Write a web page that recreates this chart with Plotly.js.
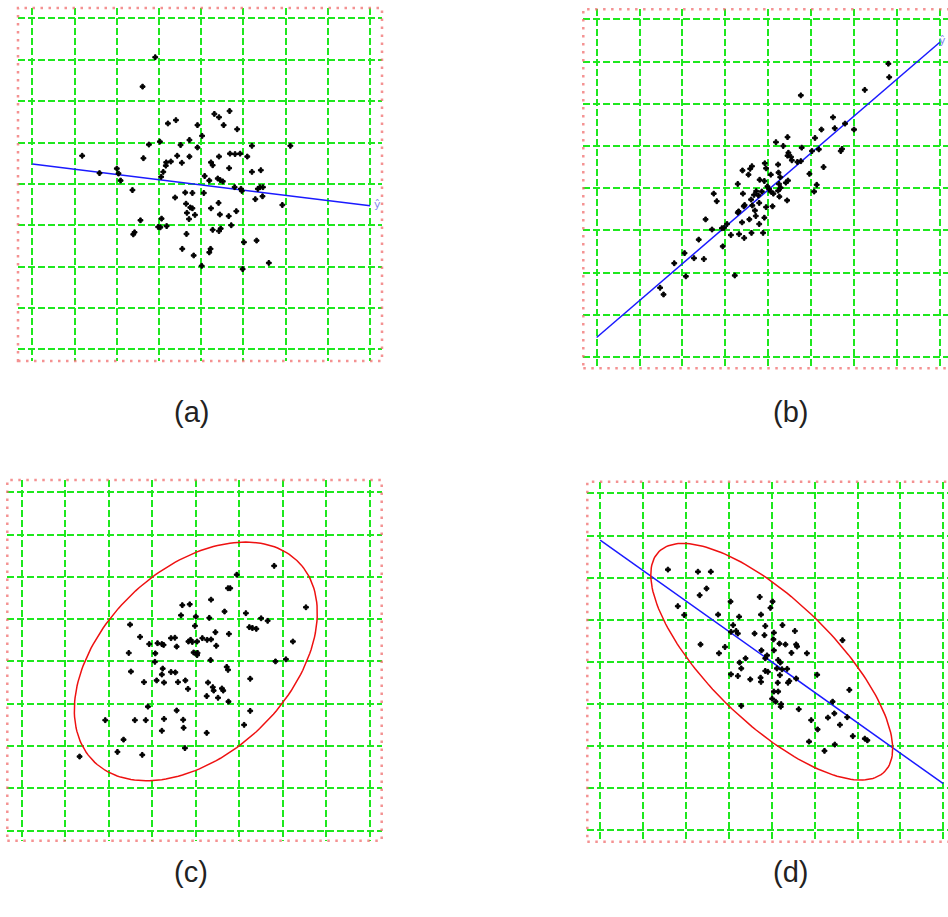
<!DOCTYPE html>
<html>
<head>
<meta charset="utf-8">
<script src="https://cdn.plot.ly/plotly-3.0.1.min.js"></script>
<style>html,body{margin:0;padding:0;background:#fff;}#chart{width:948px;height:917px;}</style>
</head>
<body>
<div id="chart"></div>
<script>
// ---- Panel (a): weak negative relation ----
const aX = [-1.09,-1.39,-0.60,-0.79,0.31,0.42,0.67,-0.09,0.53,0.85,0.02,-0.28,-1.24,-0.98,-0.49,-0.09,1.20,2.11,
  -2.82,-1.37,-0.57,-0.28,0.42,0.68,0.80,0.92,1.09,-0.83,-0.72,-0.46,0.23,0.27,-0.84,
  -2.00,-2.41,-1.96,-0.90,-0.95,0.66,1.20,1.41,-1.91,0.08,0.19,0.39,0.45,0.51,
  -1.63,-0.38,-0.21,0.06,0.79,0.94,0.96,1.34,1.39,1.46,1.45,1.28,
  -0.62,-0.36,0.41,-0.26,-0.21,0.23,1.92,-0.34,-0.15,-0.29,0.44,0.65,0.83,
  -1.44,-0.94,-0.97,-1.02,-0.82,0.27,0.42,0.46,0.71,-1.58,-1.61,-0.35,1.01,1.31,
  -0.45,0.22,0.19,-0.18,0.01,0.98,1.60];
const aY = [3.06,2.35,1.54,1.46,1.69,1.61,1.76,1.42,1.42,1.32,1.16,1.06,0.95,1.02,0.94,0.88,0.92,0.92,
  0.68,0.62,0.68,0.66,0.66,0.73,0.72,0.73,0.66,0.52,0.54,0.51,0.52,0.45,0.44,
  0.37,0.26,0.25,0.29,0.17,0.38,0.29,0.33,0.08,0.19,0.08,0.13,0.09,0.06,
  -0.15,-0.21,-0.22,-0.22,-0.08,-0.12,-0.17,-0.12,-0.08,-0.08,-0.30,-0.37,
  -0.33,-0.48,-0.46,-0.57,-0.59,-0.59,-0.51,-0.70,-0.75,-0.85,-0.74,-0.78,-0.66,
  -0.88,-0.84,-1.05,-1.04,-1.02,-1.11,-1.14,-1.08,-1.00,-1.17,-1.22,-1.21,-1.41,-1.37,
  -1.57,-1.57,-1.655,-1.73,-1.98,-2.06,-1.91];
const aLineX = [-4, 4];
const aLineY = [0.48, -0.53];

// ---- Panel (b): strong positive relation ----
const bX = [2.80,2.82,2.25,0.76,1.51,1.79,1.55,1.24,2.00,1.09,0.45,0.18,0.35,0.78,1.72,1.69,1.02,1.18,0.47,0.45,0.53,0.55,0.68,0.76,
  0.23,-0.08,-0.05,-0.38,-0.42,-0.60,-0.46,0.06,0.24,0.28,0.46,0.41,0.96,1.29,1.13,1.07,-0.71,-0.20,-0.09,0.25,0.29,-0.02,0.02,0.06,
  0.23,0.12,0.26,-0.15,-0.28,-0.33,-0.40,-0.23,-0.59,0.44,-1.27,-1.20,-0.21,-0.37,-0.55,-0.57,-0.69,-0.71,-0.31,0.10,-0.05,-0.09,
  -0.29,-0.44,-0.61,-0.21,-1.46,-1.31,-0.96,-1.03,-1.08,-0.12,-0.39,-0.87,-0.68,-0.56,-1.62,-1.06,-1.95,-1.73,-1.50,-2.19,-1.92,-0.78,-2.52,-2.44];
const bY = [2.95,2.63,2.33,2.20,1.68,1.53,1.42,1.39,1.39,1.19,1.21,1.09,1.00,0.96,0.93,0.88,0.88,0.92,0.84,0.77,0.74,0.66,0.62,0.64,
  0.56,0.59,0.47,0.52,0.46,0.42,0.32,0.32,0.37,0.26,0.18,0.13,0.34,0.50,0.08,-0.08,0.10,0.20,0.17,0.10,0.01,0.04,-0.02,-0.08,
  -0.06,-0.13,-0.20,-0.08,-0.07,-0.16,-0.27,-0.17,-0.13,-0.29,-0.13,-0.31,-0.35,-0.41,-0.40,-0.43,-0.55,-0.58,-0.53,-0.43,-0.45,-0.70,
  -0.66,-0.74,-0.81,-0.85,-0.74,-0.98,-0.85,-0.94,-0.95,-1.06,-1.06,-1.11,-1.09,-1.18,-1.22,-1.38,-1.54,-1.66,-1.68,-1.78,-2.09,-2.07,-2.36,-2.52];
const bLineX = [-4, 4];
const bLineY = [-3.54, 3.46];

// ---- Panel (c): positive relation with confidence ellipse ----
const cX = [1.80,0.94,0.74,0.79,0.35,-0.31,-0.14,2.53,0.66,1.15,-0.34,0.00,0.31,1.50,1.65,-1.51,-0.02,1.23,1.30,1.39,0.45,0.76,
  -1.28,-0.57,-0.48,-0.12,-0.17,0.15,0.26,0.35,-1.07,-0.88,-0.78,-0.74,-0.44,-0.08,0.03,0.47,2.23,-1.54,-0.93,-0.05,0.04,0.03,0.34,
  -0.94,1.83,2.07,-0.76,0.71,0.74,-1.49,-0.57,-0.47,-0.78,-0.90,-1.19,-0.73,-0.41,-0.24,0.28,1.25,-0.18,0.39,0.41,0.60,0.63,0.25,
  0.51,0.75,-1.10,-0.44,1.25,-2.08,-1.40,-1.15,-0.73,-0.29,-0.28,-0.78,0.25,1.11,-1.66,-1.80,-1.23,-0.25,-2.67];
const cY = [2.26,2.05,1.73,1.73,1.46,1.33,1.35,1.28,1.18,1.14,1.09,1.06,1.03,1.02,0.96,0.87,0.84,0.81,0.79,0.77,0.69,0.65,
  0.58,0.55,0.56,0.51,0.47,0.55,0.51,0.52,0.41,0.43,0.41,0.39,0.35,0.46,0.47,0.37,0.47,0.20,0.19,0.21,0.20,0.15,0.03,
  -0.01,0.00,0.05,-0.17,-0.13,-0.20,-0.24,-0.25,-0.26,-0.31,-0.45,-0.49,-0.50,-0.49,-0.45,-0.50,-0.41,-0.65,-0.61,-0.69,-0.64,-0.69,-0.82,
  -0.86,-0.95,-1.07,-1.16,-1.17,-1.39,-1.39,-1.39,-1.36,-1.38,-1.57,-1.64,-1.69,-1.50,-1.85,-2.14,-2.21,-2.05,-2.25];
// ellipse: [centerX, centerY, semiMajor, semiMinor, angleDeg]
const cEllipse = [0, 0, 3.33, 2.16, 45.8];

// ---- Panel (d): negative relation with line and ellipse ----
const dX = [-2.42,-1.72,-1.42,-1.52,-1.68,-2.19,-2.04,-0.96,-0.28,0.02,-0.03,-1.25,-0.25,-0.76,-0.90,-0.15,0.25,0.54,-0.83,-0.95,
  -0.79,-0.40,-0.17,0.05,0.04,0.18,0.32,0.57,0.59,1.65,-1.66,-1.09,-1.23,-0.24,0.05,0.46,0.82,-0.11,-0.15,-0.61,-0.75,0.15,0.20,
  -0.71,0.12,0.24,0.36,-0.95,-0.79,-0.50,-0.26,-0.25,-0.15,-0.09,0.19,0.41,0.38,0.57,1.06,0.14,0.05,0.15,0.01,1.81,0.09,0.22,0.21,
  -0.71,0.63,1.42,1.31,1.46,0.92,1.76,1.59,1.07,1.89,2.17,2.23,0.87,1.47,1.23];
const dY = [2.19,2.14,2.14,1.74,1.58,1.32,1.11,1.43,1.54,1.43,1.28,1.12,1.12,1.07,0.87,0.85,0.87,0.73,0.73,0.71,
  0.67,0.67,0.63,0.69,0.53,0.43,0.41,0.41,0.36,0.51,0.41,0.35,0.20,0.27,0.27,0.21,0.20,0.15,0.08,0.08,-0.02,0.04,-0.02,
  -0.16,-0.16,-0.18,-0.17,-0.30,-0.34,-0.42,-0.38,-0.48,-0.22,-0.24,-0.32,-0.46,-0.50,-0.40,-0.31,-0.50,-0.71,-0.71,-0.88,-0.67,-0.95,-1.01,-1.07,
  -1.05,-1.13,-0.95,-1.33,-1.23,-1.39,-1.32,-1.50,-1.61,-1.77,-1.83,-1.87,-1.90,-1.97,-2.12];
const dLineX = [-4, 4];
const dLineY = [2.89, -2.90];
const dEllipse = [0, 0, 3.71, 1.45, -44.9];

const panelLabels = ['(a)', '(b)', '(c)', '(d)'];

function ellipsePts(p) {
  const [cx, cy, a, b, deg] = p;
  const t = deg * Math.PI / 180, xs = [], ys = [];
  for (let i = 0; i <= 180; i++) {
    const u = 2 * Math.PI * i / 180;
    xs.push(cx + a * Math.cos(t) * Math.cos(u) - b * Math.sin(t) * Math.sin(u));
    ys.push(cy + a * Math.sin(t) * Math.cos(u) + b * Math.cos(t) * Math.sin(u));
  }
  return {x: xs, y: ys};
}

const mk = {color: '#000', symbol: 'cross', size: 4, line: {width: 1, color: '#000'}};
const blue = {color: '#1a1aff', width: 1.5};
const red = {color: '#ee1111', width: 1.5};
const eC = ellipsePts(cEllipse), eD = ellipsePts(dEllipse);

const traces = [
  {x: aLineX, y: aLineY, mode: 'lines', line: blue, xaxis: 'x', yaxis: 'y'},
  {x: aX, y: aY, mode: 'markers', marker: mk, xaxis: 'x', yaxis: 'y'},
  {x: bLineX, y: bLineY, mode: 'lines', line: blue, xaxis: 'x2', yaxis: 'y2'},
  {x: bX, y: bY, mode: 'markers', marker: mk, xaxis: 'x2', yaxis: 'y2'},
  {x: eC.x, y: eC.y, mode: 'lines', line: red, xaxis: 'x3', yaxis: 'y3'},
  {x: cX, y: cY, mode: 'markers', marker: mk, xaxis: 'x3', yaxis: 'y3'},
  {x: dLineX, y: dLineY, mode: 'lines', line: blue, xaxis: 'x4', yaxis: 'y4'},
  {x: eD.x, y: eD.y, mode: 'lines', line: red, xaxis: 'x4', yaxis: 'y4'},
  {x: dX, y: dY, mode: 'markers', marker: mk, xaxis: 'x4', yaxis: 'y4'}
];

function ax(domain, range, anchor) {
  return {domain: domain, range: range, anchor: anchor, dtick: 1, tick0: 0,
    showgrid: true, gridcolor: '#1ee81e', gridwidth: 2, griddash: '7px,3px',
    zeroline: false, showline: false, showticklabels: false, ticks: '', fixedrange: true};
}

const W = 948, H = 917;
const layout = {
  width: W, height: H, margin: {l: 0, r: 0, t: 0, b: 0},
  paper_bgcolor: '#fff', plot_bgcolor: '#fff', showlegend: false,
  xaxis:  ax([18/W, 382/W], [-4.34, 4.28], 'y'),
  yaxis:  ax([1 - 361/H, 1 - 8/H], [-4.28, 4.25], 'x'),
  xaxis2: ax([583.3/W, 1], [-4.31, 4.19], 'y2'),
  yaxis2: ax([1 - 368.3/H, 1 - 9.3/H], [-4.27, 4.24], 'x2'),
  xaxis3: ax([7.3/W, 381.7/W], [-4.33, 4.27], 'y3'),
  yaxis3: ax([1 - 840.7/H, 1 - 480/H], [-4.24, 4.29], 'x3'),
  xaxis4: ax([587.3/W, 1], [-4.30, 4.11], 'y4'),
  yaxis4: ax([1 - 841.7/H, 1 - 481.7/H], [-4.28, 4.28], 'x4'),
  shapes: [
    ['x', 'y', 1], ['x2', 'y2', 1.03], ['x3', 'y3', 1], ['x4', 'y4', 1.03]
  ].map(([xa, ya, x1]) => ({type: 'rect', xref: xa + ' domain', yref: ya + ' domain',
      x0: 0, x1: x1, y0: 0, y1: 1, line: {color: 'rgba(240,110,110,0.75)', width: 2.5, dash: '2.5px,5.5px'}})),
  annotations: [
    {text: panelLabels[0], x: 191/W, y: 1 - 412/H},
    {text: panelLabels[1], x: 790/W, y: 1 - 412/H},
    {text: panelLabels[2], x: 191/W, y: 1 - 872/H},
    {text: panelLabels[3], x: 790/W, y: 1 - 872/H}
  ].map(a => Object.assign(a, {xref: 'paper', yref: 'paper', showarrow: false, xanchor: 'center', yanchor: 'middle',
      font: {family: 'Liberation Sans, Arial, sans-serif', size: 29, color: '#222'}})).concat([
    {text: 'ŷ', xref: 'x', yref: 'y', x: 4.17, y: -0.5, showarrow: false, xanchor: 'center', yanchor: 'middle',
     font: {family: 'DejaVu Sans, sans-serif', size: 11, color: '#8a8af0'}},
    {text: 'ŷ', xref: 'paper', yref: 'y2', x: 1, y: 3.5, showarrow: false, xanchor: 'right', yanchor: 'middle',
     font: {family: 'DejaVu Sans, sans-serif', size: 11, color: '#8a8af0'}}
  ])
};

Plotly.newPlot('chart', traces, layout, {displayModeBar: false, staticPlot: true});
</script>
</body>
</html>
